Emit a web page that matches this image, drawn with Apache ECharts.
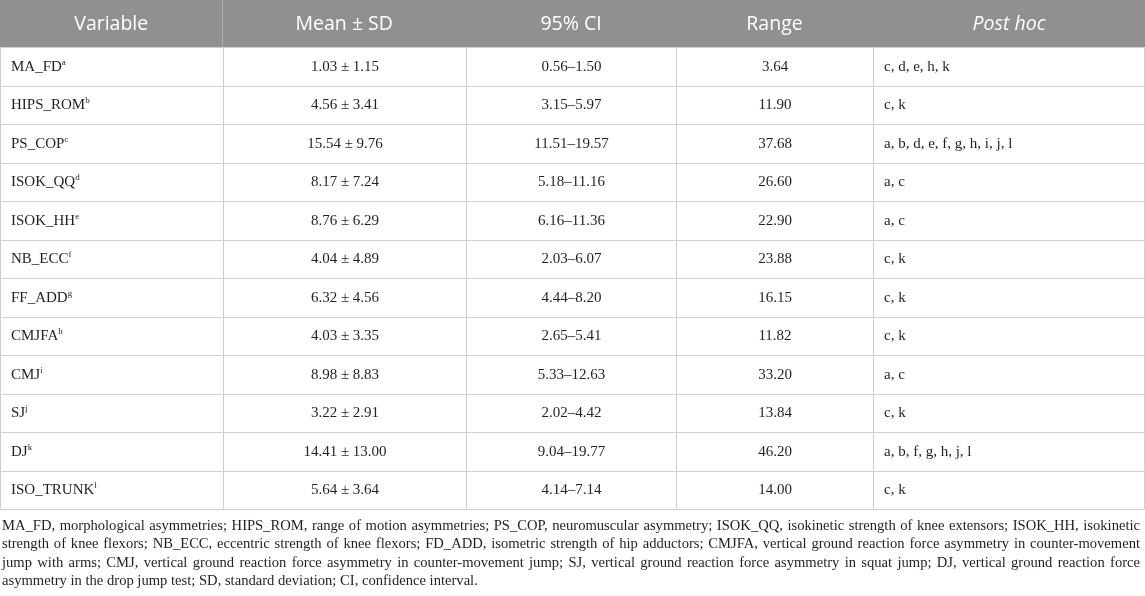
<!DOCTYPE html>
<html>
<head>
<meta charset="utf-8">
<script src="https://cdn.jsdelivr.net/npm/echarts@6/dist/echarts.min.js"></script>
<style>
  html, body { margin: 0; padding: 0; background: #fff; }
  #main { width: 1145px; height: 596px; }
</style>
</head>
<body>
<div id="main"></div>
<script>
// 表格数据
const columns = ['Variable', 'Mean ± SD', '95% CI', 'Range', 'Post hoc'];
const variables = ['MA_FD', 'HIPS_ROM', 'PS_COP', 'ISOK_QQ', 'ISOK_HH', 'NB_ECC', 'FF_ADD', 'CMJFA', 'CMJ', 'SJ', 'DJ', 'ISO_TRUNK'];
const supLetters = ['a', 'b', 'c', 'd', 'e', 'f', 'g', 'h', 'i', 'j', 'k', 'l'];
const means = ['1.03', '4.56', '15.54', '8.17', '8.76', '4.04', '6.32', '4.03', '8.98', '3.22', '14.41', '5.64'];
const sds = ['1.15', '3.41', '9.76', '7.24', '6.29', '4.89', '4.56', '3.35', '8.83', '2.91', '13.00', '3.64'];
const ciLow = ['0.56', '3.15', '11.51', '5.18', '6.16', '2.03', '4.44', '2.65', '5.33', '2.02', '9.04', '4.14'];
const ciHigh = ['1.50', '5.97', '19.57', '11.16', '11.36', '6.07', '8.20', '5.41', '12.63', '4.42', '19.77', '7.14'];
const ranges = ['3.64', '11.90', '37.68', '26.60', '22.90', '23.88', '16.15', '11.82', '33.20', '13.84', '46.20', '14.00'];
const postHoc = [
  'c, d, e, h, k', 'c, k', 'a, b, d, e, f, g, h, i, j, l', 'a, c', 'a, c', 'c, k',
  'c, k', 'c, k', 'a, c', 'c, k', 'a, b, f, g, h, j, l', 'c, k'
];
const notes = [
  'MA_FD, morphological asymmetries; HIPS_ROM, range of motion asymmetries; PS_COP, neuromuscular asymmetry; ISOK_QQ, isokinetic strength of knee extensors; ISOK_HH, isokinetic',
  'strength of knee flexors; NB_ECC, eccentric strength of knee flexors; FD_ADD, isometric strength of hip adductors; CMJFA, vertical ground reaction force asymmetry in counter-movement',
  'jump with arms; CMJ, vertical ground reaction force asymmetry in counter-movement jump; SJ, vertical ground reaction force asymmetry in squat jump; DJ, vertical ground reaction force',
  'asymmetry in the drop jump test; SD, standard deviation; CI, confidence interval.'
];

// 版式
const colEdges = [0, 222.5, 466, 676, 873, 1145];
const leftAligned = [true, false, false, false, true];
const headerHeight = 47;
const serif = '"Liberation Serif", "DejaVu Serif", serif';
const sans = '"Open Sans", "Noto Sans", sans-serif';
const textColor = '#231f20';
const lineColor = '#cfcfcf';
const noteSize = 14.6;
const noteLeft = 2;
const noteRight = 1140;
const noteTop = 526;
const noteLineHeight = 18.5;

const snap = (v) => Math.min(Math.round(v) + 0.5, 1144.5);

function cellText(r, c) {
  if (c === 0) return `{v|${variables[r]}}{s|${supLetters[r]}}`;
  if (c === 1) return `${means[r]} ± ${sds[r]}`;
  if (c === 2) return `${ciLow[r]}–${ciHigh[r]}`;
  if (c === 3) return ranges[r];
  return postHoc[r];
}

function renderBody(params, api) {
  const r = api.value(1);
  const yc = api.coord([0, r])[1];
  const h = api.size([0, 1])[1];
  const y0 = snap(yc - h / 2);
  const y1 = snap(yc + h / 2);
  const children = [];
  for (let c = 0; c < columns.length; c++) {
    const x0 = snap(api.coord([colEdges[c], r])[0]);
    const x1 = snap(api.coord([colEdges[c + 1], r])[0]);
    children.push({
      type: 'rect',
      shape: { x: x0, y: y0, width: x1 - x0, height: y1 - y0 },
      style: { fill: '#fff', stroke: lineColor, lineWidth: 1 },
    });
    children.push({
      type: 'text',
      style: {
        text: cellText(r, c),
        x: leftAligned[c] ? x0 + 10.5 : (x0 + x1) / 2,
        y: yc + 0.5,
        align: leftAligned[c] ? 'left' : 'center',
        verticalAlign: 'middle',
        fontSize: 15,
        fontFamily: serif,
        fill: textColor,
        rich: {
          v: { fontSize: 15, fontFamily: serif, fill: textColor, lineHeight: 18 },
          s: { fontSize: 9, fontFamily: serif, fill: textColor, lineHeight: 12, verticalAlign: 'top' },
        },
      },
    });
  }
  return { type: 'group', children };
}

function renderHeader(params, api) {
  const c = params.dataIndex;
  const h = api.size([0, 1])[1];
  const top = api.coord([0, 0])[1] - h / 2 - headerHeight;
  const x0 = api.coord([colEdges[c], 0])[0];
  const x1 = api.coord([colEdges[c + 1], 0])[0];
  return {
    type: 'group',
    children: [
      {
        type: 'rect',
        shape: { x: x0, y: top, width: x1 - x0, height: headerHeight },
        style: { fill: '#909090' },
      },
      {
        type: 'rect',
        shape: { x: snap(x1) - 0.5, y: top, width: c < columns.length - 1 ? 1 : 0, height: headerHeight },
        style: { fill: '#a7a7a7' },
      },
      {
        type: 'text',
        style: {
          text: columns[c],
          x: (x0 + x1) / 2,
          y: top + headerHeight / 2 + 1,
          align: 'center',
          verticalAlign: 'middle',
          fontSize: 19.5,
          fontFamily: sans,
          fontStyle: c === 4 ? 'italic' : 'normal',
          fill: '#fff',
        },
      },
    ],
  };
}

// 注释：前几行两端对齐
const measureCtx = document.createElement('canvas').getContext('2d');
measureCtx.font = `${noteSize}px ${serif}`;
const noteGraphics = [];
notes.forEach((line, i) => {
  const y = noteTop + i * noteLineHeight;
  const words = line.split(' ');
  const justify = i < notes.length - 1;
  const widths = words.map((w) => measureCtx.measureText(w).width);
  const total = widths.reduce((a, b) => a + b, 0);
  const gap = justify
    ? (noteRight - noteLeft - total) / (words.length - 1)
    : measureCtx.measureText(' ').width;
  let x = noteLeft;
  words.forEach((w, k) => {
    noteGraphics.push({
      type: 'text',
      x,
      y,
      style: {
        text: w,
        fontSize: noteSize,
        fontFamily: serif,
        fill: textColor,
        verticalAlign: 'middle',
        align: 'left',
      },
    });
    x += widths[k] + gap;
  });
});

const chart = echarts.init(document.getElementById('main'));
chart.setOption({
  animation: false,
  grid: { left: 0, right: 0, top: headerHeight, height: 462 },
  xAxis: { type: 'value', min: 0, max: 1145, show: false },
  yAxis: { type: 'category', data: variables, inverse: true, show: false },
  series: [
    {
      type: 'custom',
      name: 'header',
      renderItem: renderHeader,
      data: columns.map((c, i) => [i, 0]),
      silent: true,
    },
    {
      type: 'custom',
      name: 'body',
      renderItem: renderBody,
      data: variables.map((v, r) => [0, r]),
      silent: true,
    },
  ],
  graphic: noteGraphics,
});
</script>
</body>
</html>
